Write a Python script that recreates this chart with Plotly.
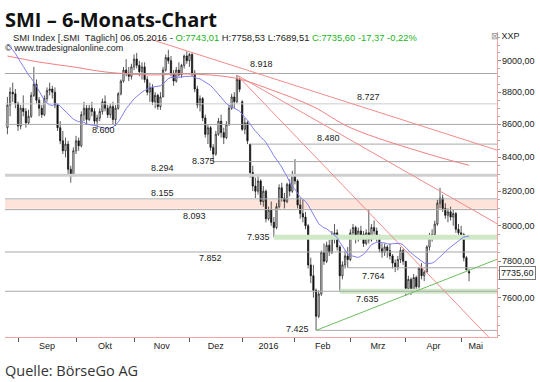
import numpy as np
import pandas as pd
import plotly.graph_objects as go

# ---------------- data ----------------
holidays = ["2015-12-24", "2015-12-25", "2015-12-31", "2016-01-01",
            "2016-03-25", "2016-03-28", "2016-05-05"]
dates = [d for d in pd.bdate_range("2015-08-26", "2016-05-06")
         if d.strftime("%Y-%m-%d") not in holidays]

opens = [8580, 8720, 8800, 8790, 8730, 8590, 8700, 8680, 8610, 8650, 8780, 8850, 8750, 8700, 8660, 8760, 8810, 8820, 8800, 8720,
         8580, 8500, 8440, 8480, 8330, 8290, 8440, 8500, 8470, 8660, 8700, 8630, 8700, 8680, 8620, 8640, 8680, 8740, 8700, 8660,
         8710, 8630, 8700, 8790, 8870, 8940, 8920, 8900, 8960, 9010, 8970, 8930, 8960, 8880, 8800, 8830, 8740, 8780, 8710, 8770,
         8940, 9020, 9000, 8920, 8870, 8940, 8910, 8970, 9030, 9000, 9040, 8920, 8820, 8720, 8760, 8640, 8540, 8580, 8460, 8420,
         8540, 8620, 8550, 8520, 8600, 8700, 8770, 8740, 8880, 8740, 8570, 8610, 8480, 8310, 8230, 8200, 8260, 8140, 8200, 8040,
         8090, 8020, 7990, 8110, 8220, 8160, 8140, 8240, 8200, 8300, 8260, 8120, 8070, 8050, 8000, 7780, 7720, 7640, 7500, 7620,
         7850, 7800, 7890, 7850, 7940, 7960, 7880, 7720, 7780, 7830, 7810, 7960, 7990, 7930, 7970, 7950, 7900, 7960, 7920, 7990,
         7970, 7940, 7870, 7850, 7880, 7860, 7830, 7790, 7770, 7810, 7860, 7800, 7650, 7700, 7640, 7710, 7660, 7760, 7720, 7740,
         7880, 7940, 7950, 8010, 8130, 8160, 8100, 8060, 8080, 8050, 8070, 7980, 7960, 7950, 7820, 7743.01]
highs = [8770, 8830, 8860, 8820, 8740, 8720, 8780, 8700, 8690, 8800, 8960, 8880, 8770, 8720, 8780, 8830, 8860, 8840, 8830, 8730,
         8620, 8560, 8520, 8500, 8350, 8460, 8530, 8520, 8680, 8740, 8720, 8720, 8740, 8700, 8660, 8700, 8760, 8780, 8720, 8730,
         8740, 8720, 8800, 8880, 8960, 9010, 8960, 8980, 9040, 9050, 9000, 8990, 8990, 8900, 8860, 8850, 8800, 8790, 8800, 8960,
         9040, 9070, 9030, 8940, 8960, 8990, 8980, 9040, 9060, 9050, 9050, 8940, 8840, 8780, 8770, 8660, 8600, 8590, 8480, 8560,
         8640, 8660, 8580, 8620, 8720, 8790, 8800, 8908, 8890, 8750, 8640, 8620, 8480, 8350, 8280, 8290, 8270, 8230, 8210, 8110,
         8140, 8050, 8130, 8240, 8250, 8190, 8250, 8270, 8320, 8390, 8270, 8160, 8150, 8080, 8010, 7820, 7780, 7650, 7640, 7860,
         7900, 7910, 7920, 7970, 8010, 7980, 7890, 7800, 7860, 7880, 7980, 8010, 8000, 7990, 8000, 7970, 7980, 8090, 8010, 8030,
         7990, 7950, 7900, 7900, 7890, 7900, 7840, 7810, 7830, 7880, 7870, 7800, 7720, 7710, 7730, 7720, 7770, 7790, 7750, 7890,
         7960, 7980, 8030, 8150, 8220, 8180, 8130, 8100, 8110, 8090, 8080, 8010, 8000, 7960, 7830, 7758.53]
lows = [8540, 8650, 8740, 8700, 8560, 8570, 8650, 8580, 8600, 8640, 8770, 8730, 8650, 8640, 8650, 8740, 8780, 8760, 8700, 8560,
        8480, 8420, 8400, 8300, 8250, 8290, 8420, 8440, 8460, 8620, 8600, 8620, 8650, 8600, 8570, 8620, 8660, 8680, 8640, 8640,
        8600, 8590, 8690, 8780, 8860, 8900, 8870, 8880, 8940, 8950, 8900, 8880, 8860, 8780, 8740, 8720, 8700, 8690, 8690, 8770,
        8930, 8980, 8900, 8840, 8860, 8900, 8890, 8950, 8980, 8960, 8900, 8800, 8700, 8680, 8620, 8520, 8480, 8440, 8375, 8410,
        8530, 8520, 8480, 8510, 8590, 8690, 8700, 8730, 8800, 8560, 8540, 8480, 8280, 8200, 8160, 8180, 8120, 8110, 8020, 8030,
        8000, 7935, 7980, 8100, 8140, 8100, 8130, 8170, 8190, 8240, 8100, 8040, 8020, 7980, 7760, 7680, 7600, 7425, 7490, 7610,
        7780, 7790, 7830, 7840, 7900, 7860, 7635, 7700, 7760, 7764, 7800, 7940, 7900, 7910, 7920, 7880, 7890, 7900, 7910, 7950,
        7910, 7850, 7820, 7830, 7820, 7810, 7760, 7740, 7750, 7790, 7780, 7610, 7620, 7615, 7630, 7630, 7650, 7700, 7690, 7740,
        7860, 7910, 7930, 8000, 8100, 8080, 8040, 8020, 8030, 8000, 7960, 7930, 7930, 7800, 7750, 7689.51]
closes = [8720, 8800, 8790, 8730, 8590, 8700, 8680, 8610, 8650, 8780, 8850, 8750, 8700, 8660, 8760, 8810, 8820, 8800, 8720, 8580,
          8500, 8440, 8480, 8330, 8290, 8440, 8500, 8470, 8660, 8700, 8630, 8700, 8680, 8620, 8640, 8680, 8740, 8700, 8660, 8710,
          8630, 8700, 8790, 8870, 8940, 8920, 8900, 8960, 9010, 8970, 8930, 8960, 8880, 8800, 8830, 8740, 8780, 8710, 8770, 8940,
          9020, 9000, 8920, 8870, 8940, 8910, 8970, 9030, 9000, 9040, 8920, 8820, 8720, 8760, 8640, 8540, 8580, 8460, 8420, 8540,
          8620, 8550, 8520, 8600, 8700, 8770, 8740, 8880, 8818, 8570, 8610, 8500, 8310, 8230, 8200, 8260, 8140, 8200, 8040, 8090,
          8020, 7990, 8110, 8220, 8160, 8140, 8240, 8200, 8300, 8260, 8120, 8070, 8050, 8000, 7780, 7720, 7640, 7500, 7620, 7850,
          7800, 7890, 7850, 7940, 7960, 7880, 7720, 7780, 7830, 7810, 7960, 7990, 7930, 7970, 7950, 7900, 7960, 7920, 7990, 7970,
          7940, 7870, 7850, 7880, 7860, 7830, 7790, 7770, 7810, 7860, 7800, 7650, 7700, 7640, 7710, 7660, 7760, 7720, 7740, 7880,
          7940, 7950, 8010, 8130, 8160, 8100, 8060, 8080, 8050, 8070, 7980, 7960, 7950, 7820, 7752.97, 7735.60]
# closes before the visible window (29 Jul - 25 Aug 2015), only used to seed the 20-day average
warmup_closes = [9150, 9180, 9200, 9210, 9220, 9200, 9180, 9170, 9180, 9320,
                 9300, 9330, 9310, 9250, 9150, 9050, 8900, 8500, 8620]

# long red average
ma_red_idx = [0, 12, 25, 37, 54, 68, 86, 100, 116, 130, 160, 175]
ma_red_val = [9030, 8991, 8960, 8928, 8909, 8915, 8890, 8815, 8709, 8580, 8418, 8353]

# trend lines: (start index, start value, end index, end value)
trend_red = [(54, 9140, 185.6, 8444),
             (87, 8908, 185.6, 8012),
             (87, 8908, 182.4, 7390)]
trend_green = [(117, 7425, 185.6, 7811)]

levels = [8918, 8727, 8600, 8480, 8375, 8294, 8155, 8093, 7935, 7852, 7764, 7635, 7425]
level_start = [None, None, None, 92, 78, None, None, None, 101, None, 129, 126, 117]
level_labels = ["8.918", "8.727", "8.600", "8.480", "8.375", "8.294", "8.155",
                "8.093", "7.935", "7.852", "7.764", "7.635", "7.425"]

y_ticks = [7600, 7800, 8000, 8200, 8400, 8600, 8800, 9000]
y_ticktext = ["7600,00", "7800,00", "8000,00", "8200,00", "8400,00", "8600,00", "8800,00", "9000,00"]
month_names = ["Sep", "Okt", "Nov", "Dez", "2016", "Feb", "Mrz", "Apr", "Mai"]

# ---------------- figure ----------------
n = len(closes)
x = np.arange(n)
XMIN, XMAX = -0.93, 185.6
YMIN, YMAX = 7390, 9186

month_start = [i for i in range(1, n) if dates[i].month != dates[i - 1].month]
label_pos = []
for k, s in enumerate(month_start):
    e = month_start[k + 1] if k + 1 < len(month_start) else s + 11
    label_pos.append((s + e) / 2)

all_c = pd.Series(warmup_closes + closes)
ma20 = all_c.rolling(20).mean().to_numpy()[len(warmup_closes):]

fig = go.Figure()

# salmon band
fig.add_shape(type="rect", xref="x", yref="y", x0=XMIN, x1=XMAX, y0=8098, y1=8150,
              fillcolor="#fde3da", line_width=0, layer="below")

GRAY = "#a9a9a9"
for lv, st in zip(levels, level_start):
    x0 = XMIN if st is None else st
    width = 1
    color = GRAY
    if lv == 8294:
        width, color = 3, "#cfcfcf"
    if lv == 8727:
        color = "#cccccc"
    if lv in (7935, 7635):
        fig.add_trace(go.Scatter(x=[x0, XMAX], y=[lv, lv], mode="lines",
                                 line=dict(color="#cfe8c8", width=5), hoverinfo="skip"))
        if lv == 7635:
            fig.add_trace(go.Scatter(x=[XMIN, XMAX], y=[lv, lv], mode="lines",
                                     line=dict(color=GRAY, width=1), hoverinfo="skip"))
        continue
    fig.add_trace(go.Scatter(x=[x0, XMAX], y=[lv, lv], mode="lines",
                             line=dict(color=color, width=width), hoverinfo="skip"))

# red average and trend lines
fig.add_trace(go.Scatter(x=ma_red_idx, y=ma_red_val, mode="lines", line_shape="spline",
                         line=dict(color="#f08080", width=1), hoverinfo="skip"))
for (a, va, b, vb) in trend_red:
    fig.add_trace(go.Scatter(x=[a, b], y=[va, vb], mode="lines",
                             line=dict(color="#f28b8b", width=1), hoverinfo="skip"))
for (a, va, b, vb) in trend_green:
    fig.add_trace(go.Scatter(x=[a, b], y=[va, vb], mode="lines",
                             line=dict(color="#6cbf5f", width=1), hoverinfo="skip"))

# blue 20-day average
fig.add_trace(go.Scatter(x=x, y=ma20, mode="lines", line=dict(color="#7f7ff2", width=1),
                         hoverinfo="skip"))

fig.add_trace(go.Candlestick(
    x=x, open=opens, high=highs, low=lows, close=closes,
    increasing=dict(line=dict(color="#111111", width=0.7), fillcolor="#ffffff"),
    decreasing=dict(line=dict(color="#111111", width=0.7), fillcolor="#111111"),
    whiskerwidth=0, hoverinfo="skip"))

FONT = "Liberation Sans, Arial"
# level labels
lab_x = [96.5, 136.7, 36.6, 121.6, 74.5, 58.6, 58.6, 71.0, 95.0, 76.8, 138.6, 136.4, 110.0]
lab_dy = [10, 7, -6, 6, 1, 7, 6, -6, 0, -6, -8, -8, 1]
annotations = []
for lv, t, lx, dy in zip(levels, level_labels, lab_x, lab_dy):
    annotations.append(dict(x=lx, y=np.log10(lv), xref="x", yref="y", text=t, showarrow=False,
                            yshift=dy, font=dict(family=FONT, size=9, color="#222")))

# right-hand price scale labels
for v, t in zip(y_ticks, y_ticktext):
    annotations.append(dict(x=1, y=np.log10(v), xref="paper", yref="y", xanchor="left",
                            yanchor="middle", xshift=3, text=t, showarrow=False,
                            font=dict(family=FONT, size=9, color="#222")))

def px(xp):
    return (xp - 5) / (497 - 5)

def py(yp):
    return (337 - yp) / (337 - 32)

annotations += [
    dict(x=px(3), y=py(19), xref="paper", yref="paper", xanchor="left", yanchor="middle",
         text="<b>SMI – 6-Monats-Chart</b>", showarrow=False,
         font=dict(family="Open Sans", size=20, color="#111")),
    dict(x=px(11), y=py(38), xref="paper", yref="paper", xanchor="left", yanchor="middle",
         text="SMI Index [.SMI  Täglich] 06.05.2016 - <span style='color:#22b422'>O:7743,01</span> "
              "H:7758,53 L:7689,51 <span style='color:#22b422'>C:7735,60 -17,37 -0,22%</span>",
         showarrow=False, font=dict(family=FONT, size=9.4, color="#222")),
    dict(x=px(3), y=py(48), xref="paper", yref="paper", xanchor="left", yanchor="middle",
         text="© www.tradesignalonline.com", showarrow=False,
         font=dict(family=FONT, size=9, color="#222")),
    dict(x=px(489), y=py(36), xref="paper", yref="paper", xanchor="left", yanchor="middle",
         text="<span style='color:#999'>⊠</span> XXP", showarrow=False,
         font=dict(family=FONT, size=9, color="#222")),
    dict(x=px(3), y=py(370), xref="paper", yref="paper", xanchor="left", yanchor="middle",
         text="Quelle: BörseGo AG", showarrow=False,
         font=dict(family="Open Sans", size=14.5, color="#333")),
    dict(x=1, y=np.log10(closes[-1]), xref="paper", yref="y", xanchor="left", yanchor="middle",
         xshift=2, text=f"{closes[-1]:.2f}".replace(".", ","), showarrow=False,
         bgcolor="#ffffff", bordercolor="#777", borderwidth=1, borderpad=1,
         font=dict(family=FONT, size=9, color="#222")),
]

minor_y = [v for v in range(7400, 9200, 50) if v not in y_ticks]

fig.update_layout(
    width=540, height=382,
    margin=dict(l=5, r=43, t=32, b=45),
    paper_bgcolor="white", plot_bgcolor="white",
    showlegend=False,
    annotations=annotations,
    xaxis=dict(range=[XMIN, XMAX], rangeslider=dict(visible=False),
               tickmode="array", tickvals=label_pos, ticktext=month_names, ticks="",
               showgrid=False, zeroline=False, showline=True, linecolor="#f5a3a3", linewidth=1,
               tickfont=dict(family=FONT, size=9, color="#222"),
               minor=dict(tickmode="array", tickvals=month_start, ticks="outside", ticklen=4,
                          tickcolor="#555", showgrid=False)),
    yaxis=dict(type="log", range=[np.log10(YMIN), np.log10(YMAX)], side="right",
               tickmode="array", tickvals=y_ticks, showticklabels=False,
               ticks="outside", ticklen=3, tickcolor="#888",
               showgrid=False, zeroline=False, showline=True, linecolor="#f5a3a3", linewidth=1,
               minor=dict(tickmode="array", tickvals=minor_y, ticks="outside", ticklen=2,
                          tickcolor="#aaa", showgrid=False)),
)

fig.write_html("out.html", config={"displayModeBar": False},
               post_script="document.body.style.margin='0px';")
